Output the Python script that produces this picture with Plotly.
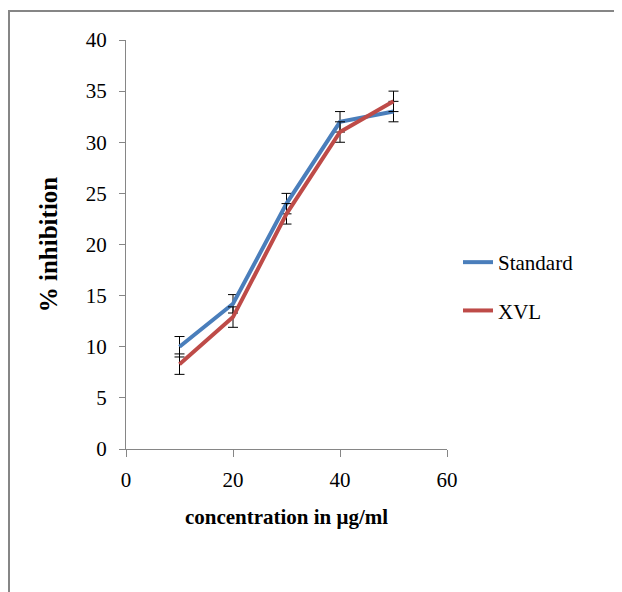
import plotly.graph_objects as go

concentration = [10, 20, 30, 40, 50]
standard = [10.0, 14.2, 24.0, 32.0, 33.0]
xvl = [8.3, 12.9, 23.0, 31.0, 34.0]
standard_err = [1.0, 0.9, 1.0, 1.0, 1.0]
xvl_err = [1.0, 1.0, 1.0, 1.0, 1.0]

W, H = 622, 592
# page is offset by the 8px body margin, so figure coords = page coords - 8
L, T = 118, 32
pw, ph = 321, 409
R, B = W - L - pw, H - T - ph

font_family = "Liberation Serif, Times New Roman, serif"

fig = go.Figure()
fig.add_trace(go.Scatter(
    x=concentration, y=standard, name="Standard", mode="lines",
    line=dict(color="#4A7EBB", width=4),
    error_y=dict(type="data", array=standard_err, color="#000000", thickness=1, width=5),
    legendgroup="a",
))
fig.add_trace(go.Scatter(
    x=concentration, y=xvl, name="XVL", mode="lines",
    line=dict(color="#BE4B48", width=4),
    error_y=dict(type="data", array=xvl_err, color="#000000", thickness=1, width=5),
    legendgroup="b",
))

def px_x(p):
    return (p - L) / pw

def px_y(p):
    return (H - B - p) / ph

border = dict(color="#868686", width=2)

fig.update_layout(
    width=W, height=H,
    margin=dict(l=L, r=R, t=T, b=B, autoexpand=False),
    paper_bgcolor="white", plot_bgcolor="white",
    font=dict(family=font_family, size=21, color="#000000"),
    showlegend=True,
    legend=dict(
        x=px_x(450), y=px_y(234), xanchor="left", yanchor="top",
        font=dict(family=font_family, size=21, color="#000000"),
        tracegroupgap=18, bgcolor="rgba(0,0,0,0)",
    ),
    xaxis=dict(
        range=[0, 60], tick0=0, dtick=20, showgrid=False, zeroline=False,
        showline=True, linecolor="#868686", linewidth=1,
        ticks="outside", ticklen=7, tickcolor="#868686",
        ticklabelstandoff=5,
        title=dict(text="<b>concentration in μg/ml</b>", standoff=18,
                   font=dict(family=font_family, size=21)),
    ),
    yaxis=dict(
        range=[0, 40], tick0=0, dtick=5, showgrid=False, zeroline=False,
        showline=True, linecolor="#868686", linewidth=1,
        ticks="outside", ticklen=6, tickcolor="#868686",
        ticklabelstandoff=8,
        title=dict(text="<b>% inhibition</b>", standoff=21,
                   font=dict(family=font_family, size=25)),
    ),
    shapes=[
        dict(type="line", xref="paper", yref="paper",
             x0=px_x(0), x1=px_x(2000), y0=px_y(3), y1=px_y(3),
             line=border, layer="below"),
        dict(type="line", xref="paper", yref="paper",
             x0=px_x(1), x1=px_x(1), y0=px_y(2), y1=px_y(2000),
             line=border, layer="below"),
    ],
)

fig.write_html("out.html")
